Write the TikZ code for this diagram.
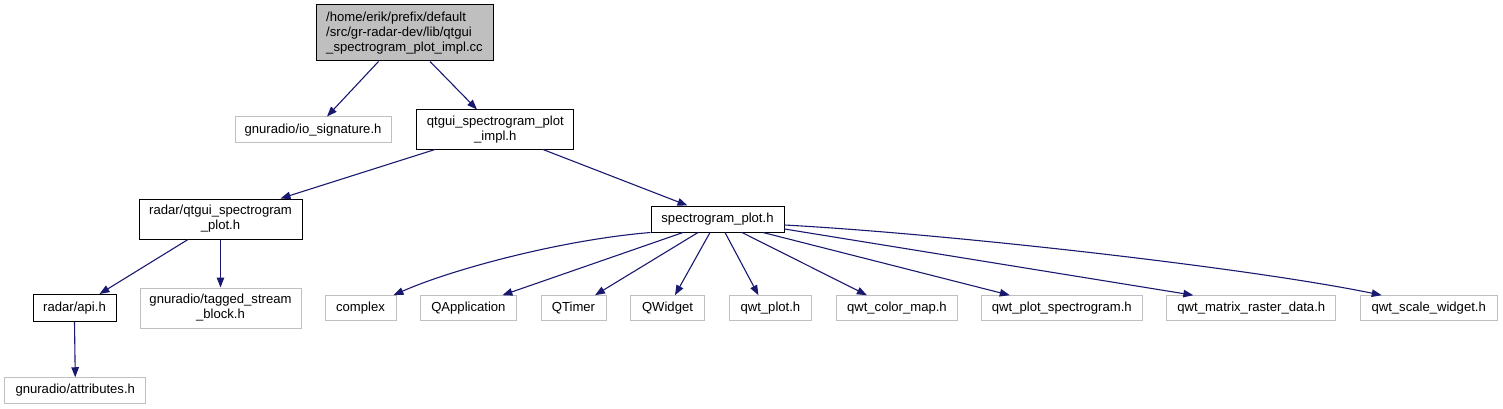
\documentclass[tikz,border=0pt]{standalone}
\usepackage{fontspec}
\setmainfont{Liberation Sans}
\usetikzlibrary{arrows.meta}
\definecolor{edgeblue}{HTML}{191970}
\definecolor{lightgray}{HTML}{BFBFBF}
\begin{document}
\begin{tikzpicture}[x=1pt,y=-1pt,
  box/.style={draw=black,line width=1pt,inner sep=0pt,align=center,
    font=\fontsize{13.1}{15}\selectfont},
  gbox/.style={box,draw=lightgray},
  rootbox/.style={box,fill=lightgray,draw=black},
  edge/.style={draw=edgeblue,line width=1.1pt,-{Triangle[length=10pt,width=7.5pt]}}
]
\useasboundingbox (0,0) rectangle (1503,409);
% nodes
\node[rootbox,minimum width=177pt,minimum height=56pt,align=left] (root) at (404.5,33)
  {/home/erik/prefix/default\\/src/gr-radar-dev/lib/qtgui\\\_spectrogram\_plot\_impl.cc};
\node[gbox,minimum width=156pt,minimum height=25.5pt] (io) at (313,129.75) {gnuradio/io\_signature.h};
\node[box,minimum width=157.3pt,minimum height=39pt] (impl) at (495.3,129.5) {qtgui\_spectrogram\_plot\\\_impl.h};
\node[box,minimum width=163pt,minimum height=40pt] (radarq) at (220.5,219) {radar/qtgui\_spectrogram\\\_plot.h};
\node[gbox,minimum width=161pt,minimum height=40pt] (tagged) at (220.5,308) {gnuradio/tagged\_stream\\\_block.h};
\node[box,minimum width=83pt,minimum height=27pt] (api) at (74.5,308) {radar/api.h};
\node[gbox,minimum width=141pt,minimum height=25.5pt] (attr) at (75.25,390.5) {gnuradio/attributes.h};
\node[box,minimum width=133pt,minimum height=26pt] (sp) at (717.5,219) {spectrogram\_plot.h};
\node[gbox,minimum width=71pt,minimum height=25pt] (cx) at (360.5,308.2) {complex};
\node[gbox,minimum width=95.3pt,minimum height=25pt] (qa) at (468.4,308.2) {QApplication};
\node[gbox,minimum width=65pt,minimum height=25pt] (qt) at (573.5,308.2) {QTimer};
\node[gbox,minimum width=73.6pt,minimum height=25pt] (qw) at (667.5,308.2) {QWidget};
\node[gbox,minimum width=82.7pt,minimum height=25pt] (qp) at (770.4,308.2) {qwt\_plot.h};
\node[gbox,minimum width=121.7pt,minimum height=25pt] (qcm) at (896.9,308.2) {qwt\_color\_map.h};
\node[gbox,minimum width=161pt,minimum height=25pt] (qps) at (1061.8,308.2) {qwt\_plot\_spectrogram.h};
\node[gbox,minimum width=169.3pt,minimum height=25pt] (qmr) at (1251.3,308.2) {qwt\_matrix\_raster\_data.h};
\node[gbox,minimum width=137.3pt,minimum height=25pt] (qsw) at (1428.7,308.2) {qwt\_scale\_widget.h};
% edges
\draw[edge] ([xshift=-26pt]root.south) -- ([xshift=14pt]io.north);
\draw[edge] ([xshift=25.5pt]root.south) -- ([xshift=-18.3pt]impl.north);
\draw[edge] ([xshift=-60.3pt]impl.south) -- ([xshift=60pt]radarq.north);
\draw[edge] ([xshift=47.7pt]impl.south) -- ([xshift=-30pt]sp.north);
\draw[edge] ([xshift=-32.5pt]radarq.south) -- ([xshift=25pt]api.north);
\draw[edge] (radarq.south) -- (tagged.north);
\draw[edge] (api.south) -- (attr.north);
\draw[edge] (sp.south west) .. controls (560,240) and (450,270) .. ([xshift=33pt]cx.north);
\draw[edge] ([xshift=-34.5pt]sp.south) -- ([xshift=34pt]qa.north);
\draw[edge] ([xshift=-19.5pt]sp.south) -- ([xshift=21.5pt]qt.north);
\draw[edge] ([xshift=-7.5pt]sp.south) -- ([xshift=7.5pt]qw.north);
\draw[edge] ([xshift=7.5pt]sp.south) -- ([xshift=-12pt]qp.north);
\draw[edge] ([xshift=24.5pt]sp.south) -- ([xshift=-30pt]qcm.north);
\draw[edge] ([xshift=45.5pt]sp.south) -- ([xshift=-52pt]qps.north);
\draw[edge] ([yshift=-10pt]sp.east) -- ([xshift=-58pt]qmr.north);
\draw[edge] ([yshift=-6pt]sp.east) .. controls (950,234) and (1250,268) .. ([xshift=-47pt]qsw.north);
\end{tikzpicture}
\end{document}
